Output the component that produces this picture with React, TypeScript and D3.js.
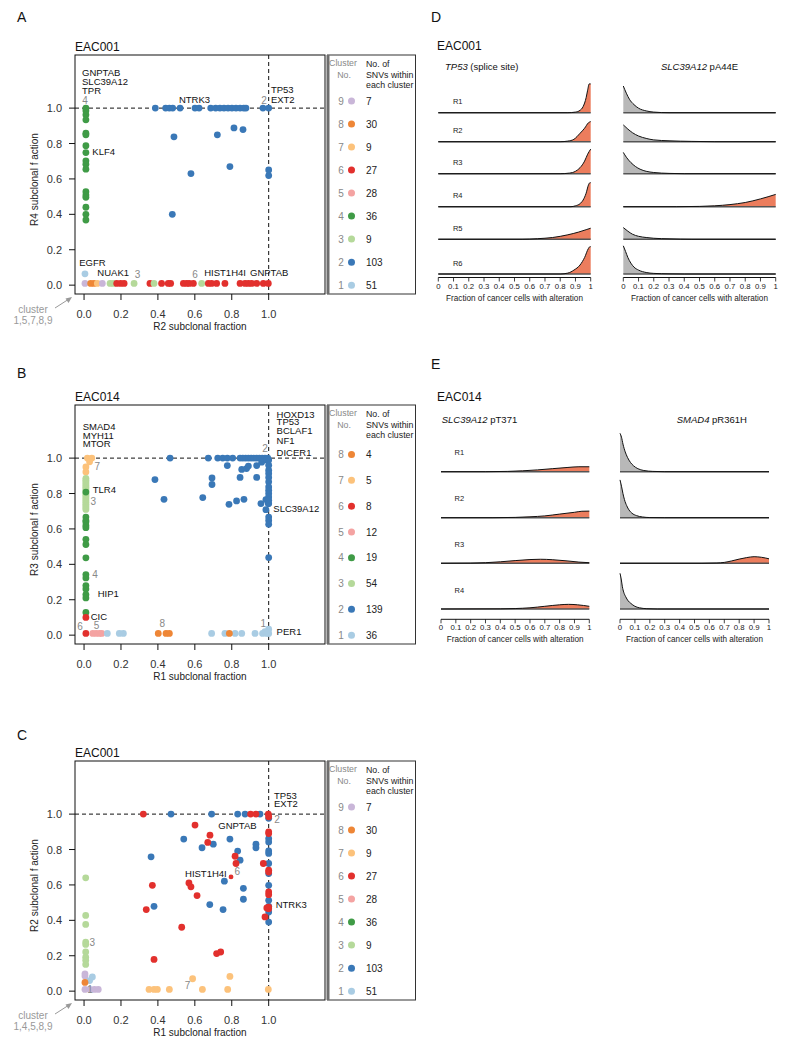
import React from "react";
import * as d3 from "d3";

const FONT = "'Liberation Sans', Arial, Helvetica, sans-serif";
const W = 788;
const H = 1049;

const clusterColors: Record<number, string> = {
  1: "#a9cce3", 2: "#3a78b7", 3: "#b5d99a", 4: "#3f9b46", 5: "#f4a3a2",
  6: "#e2302d", 7: "#fcc27b", 8: "#ee8636", 9: "#c9b6d8",
};

const scatterTicks = [0, 0.2, 0.4, 0.6, 0.8, 1.0];

// ---------- Panel A : EAC001, x = R2, y = R4  [cluster, x, y]
const pointsA: [number, number, number][] = [
  [4,0.01,1.0],[4,0.01,0.985],[4,0.01,0.962],[4,0.01,0.934],[4,0.01,0.858],[4,0.01,0.849],[4,0.01,0.788],
  [4,0.01,0.749],[4,0.01,0.702],[4,0.01,0.683],[4,0.01,0.655],[4,0.01,0.528],[4,0.01,0.509],[4,0.01,0.496],
  [4,0.01,0.44],[4,0.01,0.40],[4,0.01,0.368],
  [1,0.005,0.064],
  [9,0.005,0.01],[8,0.036,0.01],[8,0.054,0.01],[7,0.072,0.01],[9,0.099,0.01],
  [3,0.141,0.01],[3,0.159,0.01],[6,0.177,0.01],[6,0.198,0.01],[6,0.217,0.01],[3,0.271,0.01],
  [6,0.357,0.01],[3,0.379,0.01],[6,0.42,0.01],[6,0.456,0.01],[6,0.469,0.01],
  [6,0.538,0.01],[6,0.556,0.01],[6,0.57,0.01],[6,0.592,0.01],[3,0.637,0.01],[6,0.673,0.01],
  [6,0.691,0.01],[6,0.718,0.01],[6,0.763,0.01],
  [6,0.845,0.01],[6,0.872,0.01],[6,0.89,0.01],[6,0.908,0.01],[6,0.935,0.01],[6,0.971,0.01],[6,0.998,0.01],
  [2,0.386,1],[2,0.442,1],[2,0.462,1],[2,0.48,1],[2,0.52,1],[2,0.601,1],[2,0.623,1],[2,0.686,1],
  [2,0.713,1],[2,0.736,1],[2,0.758,1],[2,0.78,1],[2,0.801,1],[2,0.823,1],[2,0.845,1],[2,0.865,1],
  [2,0.877,1],[2,0.969,1],[2,1.0,1],
  [2,0.487,0.838],[2,0.722,0.849],[2,0.812,0.888],[2,0.861,0.879],[2,0.79,0.67],[2,0.579,0.63],
  [2,0.478,0.40],[2,1.0,0.651],[2,1.0,0.619],
];

// ---------- Panel B : EAC014, x = R1, y = R3
const pointsB: [number, number, number][] = [
  [7,0.018,1.0],[7,0.042,1.0],[7,0.03,0.979],[7,0.01,0.95],[7,0.01,0.922],
  [3,0.01,0.886],[3,0.01,0.875],[3,0.01,0.865],[3,0.01,0.855],[3,0.01,0.845],[3,0.01,0.835],
  [3,0.01,0.825],[3,0.01,0.815],[3,0.01,0.80],[3,0.01,0.79],[3,0.01,0.78],[3,0.01,0.77],
  [3,0.01,0.76],[3,0.01,0.75],[3,0.01,0.74],[3,0.01,0.73],[3,0.01,0.72],[3,0.01,0.71],
  [4,0.01,0.808],[4,0.01,0.667],[4,0.01,0.648],[4,0.01,0.639],[4,0.01,0.62],[4,0.01,0.607],
  [4,0.01,0.541],[4,0.01,0.512],[4,0.01,0.437],[4,0.01,0.342],[4,0.01,0.323],[4,0.01,0.28],
  [4,0.01,0.261],[4,0.01,0.229],[4,0.01,0.21],[4,0.01,0.128],
  [6,0.01,0.10],[6,0.01,0.01],
  [5,0.047,0.01],[5,0.065,0.01],[5,0.083,0.01],[5,0.096,0.01],
  [1,0.126,0.01],[1,0.191,0.01],[1,0.213,0.01],[1,0.691,0.01],[1,0.763,0.01],[1,0.818,0.01],
  [1,0.854,0.01],[1,0.926,0.01],[1,0.967,0.01],[1,0.989,0.01],[1,1.0,0.01],[1,1.0,0.034],[1,0.98,0.02],
  [8,0.402,0.01],[8,0.444,0.01],[8,0.462,0.01],[8,0.787,0.01],
  [2,0.466,1],[2,0.673,1],[2,0.724,1],[2,0.751,1],[2,0.776,1],[2,0.805,1],[2,0.845,1],[2,0.86,1],
  [2,0.875,1],[2,0.89,1],[2,0.905,1],[2,0.92,1],[2,0.935,1],[2,0.95,1],[2,0.965,1],[2,0.98,1],[2,0.995,1],
  [2,0.384,0.879],[2,0.433,0.767],[2,0.643,0.777],[2,0.693,0.888],[2,0.693,0.851],[2,0.776,0.958],
  [2,0.785,0.739],[2,0.826,0.758],[2,0.866,0.767],[2,0.845,0.891],[2,0.854,0.936],[2,0.88,0.941],
  [2,0.89,0.955],[2,0.935,0.891],[2,0.935,0.958],[2,0.958,0.743],[2,0.985,0.766],[2,0.985,0.709],
  [2,0.998,0.743],[2,0.962,0.977],[2,0.99,0.99],
  [2,1.0,0.989],[2,1.0,0.96],[2,1.0,0.932],[2,1.0,0.913],[2,1.0,0.891],[2,1.0,0.866],[2,1.0,0.837],
  [2,1.0,0.818],[2,1.0,0.8],[2,1.0,0.781],[2,1.0,0.762],[2,1.0,0.743],[2,1.0,0.667],[2,1.0,0.648],
  [2,1.0,0.626],[2,1.0,0.438],
];

// ---------- Panel C : EAC001, x = R1, y = R2
const pointsC: [number, number, number][] = [
  [3,0.009,0.64],[3,0.009,0.428],[3,0.009,0.377],[3,0.009,0.277],[3,0.009,0.264],[3,0.009,0.221],
  [3,0.009,0.192],[3,0.009,0.174],[3,0.009,0.151],
  [9,0.005,0.098],[9,0.005,0.085],[9,0.005,0.01],[9,0.032,0.01],[9,0.056,0.01],[9,0.077,0.01],
  [1,0.045,0.08],[1,0.03,0.06],
  [8,0.005,0.049],
  [7,0.352,0.01],[7,0.379,0.01],[7,0.397,0.01],[7,0.462,0.01],[7,0.641,0.01],[7,0.778,0.01],
  [7,0.998,0.01],[7,0.588,0.07],[7,0.79,0.083],
  [2,0.471,1],[2,0.691,1],[2,0.832,1],[2,0.872,1],[2,0.953,1],
  [2,0.54,0.859],[2,0.639,0.81],[2,0.70,0.83],[2,0.79,0.859],[2,0.832,0.791],[2,0.845,0.74],
  [2,0.931,0.83],[2,0.931,0.81],[2,0.363,0.759],[2,0.76,0.621],[2,0.863,0.581],[2,0.863,0.519],
  [2,0.681,0.489],[2,0.753,0.461],[2,0.379,0.479],
  [2,1.0,0.976],[2,1.0,0.862],[2,1.0,0.843],[2,1.0,0.792],[2,1.0,0.778],[2,1.0,0.721],[2,1.0,0.664],
  [2,1.0,0.598],[2,1.0,0.513],[2,1.0,0.479],[2,1.0,0.447],[2,1.0,0.39],
  [6,0.321,1],[6,0.902,1],[6,0.931,1],[6,0.998,1],
  [6,0.601,0.938],[6,0.682,0.881],[6,0.67,0.84],[6,0.818,0.762],[6,0.823,0.721],[6,0.971,0.721],
  [6,0.37,0.598],[6,0.568,0.611],[6,0.579,0.589],[6,0.612,0.54],[6,0.337,0.461],
  [6,0.529,0.361],[6,0.718,0.212],[6,0.74,0.221],[6,0.379,0.179],
  [6,1.0,0.985],[6,1.0,0.9],[6,1.0,0.89],[6,1.0,0.683],[6,1.0,0.673],[6,1.0,0.56],[6,1.0,0.545],
  [6,1.0,0.475],[6,1.0,0.466],[6,0.99,0.47],[6,0.98,0.419],
];
const smallPointsC: [number, number, number][] = [[6, 0.796, 0.645]];

// annotations: [text, x, y, kind]  kind g = gene label, n = cluster number
type Ann = [string, number, number, string];
const annA: Ann[] = [
  ["GNPTAB",-0.011,1.181,"g"],["SLC39A12",-0.011,1.13,"g"],["TPR",-0.011,1.082,"g"],
  ["4",0.005,1.023,"n"],["NTRK3",0.514,1.029,"g"],["2",0.975,1.023,"n"],
  ["TP53",1.012,1.085,"g"],["EXT2",1.012,1.031,"g"],["KLF4",0.045,0.735,"g"],
  ["EGFR",-0.026,0.108,"g"],["NUAK1",0.072,0.051,"g"],["3",0.29,0.04,"n"],["6",0.601,0.04,"n"],
  ["HIST1H4I",0.651,0.051,"g"],["GNPTAB",0.899,0.051,"g"],
];
const annB: Ann[] = [
  ["SMAD4",-0.007,1.156,"g"],["MYH11",-0.007,1.11,"g"],["MTOR",-0.007,1.065,"g"],
  ["HOXD13",1.043,1.229,"g"],["TP53",1.043,1.187,"g"],["BCLAF1",1.043,1.136,"g"],
  ["NF1",1.043,1.082,"g"],["DICER1",1.043,1.012,"g"],["2",0.98,1.034,"n"],
  ["7",0.072,0.933,"n"],["TLR4",0.047,0.805,"g"],["3",0.05,0.735,"n"],["4",0.059,0.32,"n"],
  ["HIP1",0.074,0.215,"g"],["CIC",0.036,0.088,"g"],["6",-0.022,0.029,"n"],["5",0.068,0.037,"n"],
  ["8",0.424,0.046,"n"],["1",0.971,0.046,"n"],["PER1",1.043,0.0,"g"],["SLC39A12",1.025,0.695,"g"],
];
const annC: Ann[] = [
  ["TP53",1.029,1.088,"g"],["EXT2",1.029,1.04,"g"],["2",1.045,0.947,"n"],["GNPTAB",0.727,0.918,"g"],
  ["HIST1H4I",0.547,0.642,"g"],["6",0.83,0.656,"n"],["NTRK3",1.038,0.469,"g"],["3",0.045,0.255,"n"],
  ["7",0.561,0.012,"n"],["1",0.032,-0.01,"n"],
];

const legendClustersAC = [9, 8, 7, 6, 5, 4, 3, 2, 1];
const legendCountsA = [7, 30, 9, 27, 28, 36, 9, 103, 51];
const legendClustersB = [8, 7, 6, 5, 4, 3, 2, 1];
const legendCountsB = [4, 5, 8, 12, 19, 54, 139, 36];

// ---------- Density panels: [fraction, relative density]
const densityTicks = [0, 0.1, 0.2, 0.3, 0.4, 0.5, 0.6, 0.7, 0.8, 0.9, 1];
const densityTickLabels = ["0", "0.1", "0.2", "0.3", "0.4", "0.5", "0.6", "0.7", "0.8", "0.9", "1"];

const D_TP53: [number, number][][] = [
  [[0,0],[0.85,0],[0.9,0.02],[0.93,0.08],[0.95,0.2],[0.97,0.5],[0.98,0.75],[0.99,0.96],[1,0.96]],
  [[0,0],[0.8,0],[0.85,0.02],[0.89,0.08],[0.93,0.28],[0.96,0.45],[0.985,0.63],[1,0.67]],
  [[0,0],[0.8,0],[0.86,0.02],[0.9,0.08],[0.93,0.2],[0.96,0.42],[0.98,0.65],[1,0.82]],
  [[0,0],[0.87,0],[0.9,0.03],[0.93,0.1],[0.95,0.22],[0.97,0.45],[0.985,0.72],[0.995,0.8],[1,0.8]],
  [[0,0],[0.55,0],[0.65,0.02],[0.75,0.06],[0.85,0.15],[0.92,0.24],[0.97,0.32],[1,0.37]],
  [[0,0],[0.8,0],[0.85,0.03],[0.89,0.13],[0.93,0.3],[0.96,0.55],[0.985,0.85],[0.995,0.91],[1,0.91]],
];
const D_SLC: [number, number][][] = [
  [[0,0.89],[0.02,0.65],[0.04,0.45],[0.07,0.27],[0.1,0.15],[0.15,0.06],[0.2,0.02],[0.3,0],[1,0]],
  [[0,0.56],[0.03,0.42],[0.06,0.3],[0.1,0.19],[0.15,0.11],[0.2,0.06],[0.3,0.03],[0.45,0.01],[0.6,0],[1,0]],
  [[0,0.71],[0.02,0.55],[0.05,0.37],[0.08,0.24],[0.11,0.15],[0.15,0.08],[0.2,0.04],[0.3,0.01],[0.4,0],[1,0]],
  [[0,0],[0.35,0],[0.5,0.01],[0.6,0.03],[0.7,0.07],[0.8,0.14],[0.9,0.26],[1,0.41]],
  [[0,0.39],[0.03,0.27],[0.06,0.17],[0.1,0.1],[0.15,0.06],[0.2,0.035],[0.3,0.015],[0.45,0],[1,0]],
  [[0,0.94],[0.015,0.75],[0.03,0.55],[0.05,0.36],[0.07,0.23],[0.1,0.13],[0.15,0.05],[0.2,0.02],[0.3,0.005],[0.4,0],[1,0]],
];
const D_SLC_fill = ["g", "g", "g", "o", "g", "g"];
const D_TP53_fill = ["o", "o", "o", "o", "o", "o"];
const D_rows = ["R1", "R2", "R3", "R4", "R5", "R6"];

const E_SLC: [number, number][][] = [
  [[0,0],[0.3,0],[0.45,0.01],[0.55,0.03],[0.65,0.06],[0.75,0.1],[0.85,0.14],[0.93,0.165],[1,0.165]],
  [[0,0],[0.35,0],[0.5,0.01],[0.6,0.03],[0.7,0.06],[0.8,0.12],[0.9,0.18],[0.95,0.215],[1,0.22]],
  [[0,0],[0.2,0.005],[0.3,0.02],[0.4,0.05],[0.5,0.09],[0.6,0.125],[0.67,0.135],[0.75,0.12],[0.85,0.08],[0.93,0.04],[1,0.02]],
  [[0,0],[0.4,0.005],[0.5,0.015],[0.6,0.04],[0.7,0.09],[0.8,0.14],[0.86,0.155],[0.92,0.14],[1,0.09]],
];
const E_SMAD4: [number, number][][] = [
  [[0,1.28],[0.01,1.15],[0.02,0.92],[0.035,0.66],[0.05,0.48],[0.07,0.31],[0.09,0.2],[0.12,0.1],[0.16,0.04],[0.22,0.01],[0.3,0],[1,0]],
  [[0,1.26],[0.01,1.05],[0.02,0.8],[0.03,0.6],[0.045,0.4],[0.06,0.26],[0.08,0.15],[0.11,0.07],[0.15,0.025],[0.2,0.005],[0.3,0],[1,0]],
  [[0,0],[0.55,0],[0.65,0.01],[0.7,0.03],[0.75,0.08],[0.8,0.14],[0.85,0.19],[0.9,0.22],[0.95,0.2],[1,0.15]],
  [[0,1.19],[0.008,1.0],[0.016,0.74],[0.025,0.56],[0.038,0.41],[0.055,0.27],[0.072,0.19],[0.1,0.09],[0.13,0.04],[0.18,0.01],[0.25,0],[1,0]],
];
const E_SLC_fill = ["o", "o", "o", "o"];
const E_SMAD4_fill = ["g", "g", "o", "g"];
const E_rows = ["R1", "R2", "R3", "R4"];

const ORANGE = "#ec7d5d";
const GREY = "#b8b8b8";

// ---------------- Scatter panel ----------------
interface ScatterProps {
  top: number; letter: string; letterY: number; title: string;
  xLabel: string; yLabel: string; points: [number, number, number][];
  small?: [number, number, number][];
  ann: Ann[]; legendClusters: number[]; legendCounts: number[]; legendTop: number;
  corner?: string;
}

function Scatter(p: ScatterProps) {
  const left = 75, right = 325, boxH = 239;
  const top = p.top, bottom = top + boxH;
  const x = d3.scaleLinear().domain([-0.049, 1.305]).range([left, right]);
  const y = d3.scaleLinear().domain([-0.05, 1.30]).range([bottom, top]);
  const n = p.legendClusters.length;
  const ly = d3.scaleLinear().domain([0, n - 1]).range([y(p.legendTop), y(0)]);
  return (
    <g fontFamily={FONT}>
      <text x={17} y={p.letterY} fontSize={14} fill="#111">{p.letter}</text>
      <text x={75} y={top - 4} fontSize={12} fill="#111">{p.title}</text>
      <rect x={left} y={top} width={right - left} height={boxH} fill="none" stroke="#111" strokeWidth={1} />
      {/* ticks */}
      {scatterTicks.map((t) => (
        <g key={"y" + t}>
          <line x1={left} x2={left - 6} y1={y(t)} y2={y(t)} stroke="#111" />
          <text x={62} y={y(t) + 4} fontSize={11} textAnchor="end" fill="#333">{t.toFixed(1)}</text>
        </g>
      ))}
      {scatterTicks.map((t) => (
        <g key={"x" + t}>
          <line x1={x(t)} x2={x(t)} y1={bottom} y2={bottom + 6} stroke="#111" />
          <text x={x(t)} y={bottom + 24} fontSize={11} textAnchor="middle" fill="#333">{t.toFixed(1)}</text>
        </g>
      ))}
      <text x={(left + right) / 2} y={bottom + 36} fontSize={10} textAnchor="middle" fill="#222">{p.xLabel}</text>
      <text transform={`translate(38,${top + boxH / 2 + 5}) rotate(-90)`} fontSize={10} textAnchor="middle" fill="#222">{p.yLabel}</text>
      {/* dashed reference lines */}
      <line x1={left} x2={right} y1={y(1)} y2={y(1)} stroke="#111" strokeDasharray="4,3" />
      <line x1={x(1)} x2={x(1)} y1={top} y2={bottom} stroke="#111" strokeDasharray="4,3" />
      {/* points */}
      {p.points.map((d, i) => (
        <circle key={i} cx={x(d[1])} cy={y(d[2])} r={3.4} fill={clusterColors[d[0]]} />
      ))}
      {(p.small || []).map((d, i) => (
        <circle key={"s" + i} cx={x(d[1])} cy={y(d[2])} r={2.4} fill={clusterColors[d[0]]} />
      ))}
      {/* annotations */}
      {p.ann.map((a, i) => (
        <text key={"a" + i} x={x(a[1])} y={y(a[2])} fontSize={a[3] === "g" ? 9.5 : 10}
          textAnchor={a[3] === "g" ? "start" : "middle"} fill={a[3] === "g" ? "#111" : "#888"}>{a[0]}</text>
      ))}
      {/* corner note */}
      {p.corner && (
        <g fill="#999" stroke="none">
          <text x={33} y={bottom + 19} fontSize={10} textAnchor="middle">cluster</text>
          <text x={33} y={bottom + 30} fontSize={10} textAnchor="middle">{p.corner}</text>
          <line x1={55} y1={bottom + 14} x2={69} y2={bottom + 5} stroke="#999" strokeWidth={1} />
          <path d={`M ${72} ${bottom + 3} L ${65.5} ${bottom + 4.5} L ${68.5} ${bottom + 9} Z`} fill="#999" />
        </g>
      )}
      {/* legend */}
      <rect x={327.5} y={top} width={88} height={boxH} fill="none" stroke="#333" strokeWidth={1} />
      <line x1={328} x2={328} y1={top} y2={bottom} stroke="#6e6e6e" strokeWidth={3} />
      <g fontSize={8.8}>
        <text x={343} y={top + 11} textAnchor="middle" fill="#888">Cluster</text>
        <text x={344} y={top + 22.5} textAnchor="middle" fill="#888">No.</text>
        <text x={366} y={top + 11.5} fill="#222">No. of</text>
        <text x={366} y={top + 22.5} fill="#222">SNVs within</text>
        <text x={366} y={top + 33} fill="#222">each cluster</text>
      </g>
      {p.legendClusters.map((c, i) => (
        <g key={"l" + c}>
          <text x={341} y={ly(i) + 3.6} fontSize={10} textAnchor="middle" fill="#888">{c}</text>
          <circle cx={351.5} cy={ly(i)} r={3.5} fill={clusterColors[c]} />
          <text x={366} y={ly(i) + 3.6} fontSize={10} fill="#222">{p.legendCounts[i]}</text>
        </g>
      ))}
    </g>
  );
}

// ---------------- Density column ----------------
interface DensProps {
  x0: number; x1: number; baselines: number[]; curves: [number, number][][];
  fills: string[]; axisY: number; rowLabels?: string[]; labelX?: number; labelDy: number;
}
const UNIT = 30;

function DensityColumn(p: DensProps) {
  const x = d3.scaleLinear().domain([0, 1]).range([p.x0, p.x1]);
  return (
    <g fontFamily={FONT}>
      {p.curves.map((c, i) => {
        const b = p.baselines[i];
        const h = d3.scaleLinear().domain([0, 1]).range([b, b - UNIT]);
        const area = d3.area<[number, number]>().x((d) => x(d[0])).y0(b).y1((d) => h(d[1])).curve(d3.curveMonotoneX);
        const line = d3.line<[number, number]>().x((d) => x(d[0])).y((d) => h(d[1])).curve(d3.curveMonotoneX);
        return (
          <g key={i}>
            <path d={area(c) || ""} fill={p.fills[i] === "o" ? ORANGE : GREY} stroke="none" />
            <line x1={x(0)} x2={x(1)} y1={b} y2={b} stroke="#555" strokeWidth={1.6} />
            <path d={line(c) || ""} fill="none" stroke="#111" strokeWidth={1} />
            {p.rowLabels && (
              <text x={p.labelX} y={b - p.labelDy} fontSize={7.5} textAnchor="middle" fill="#222">{p.rowLabels[i]}</text>
            )}
          </g>
        );
      })}
      <line x1={x(0)} x2={x(1)} y1={p.axisY} y2={p.axisY} stroke="#111" strokeWidth={1} />
      {densityTicks.map((t, i) => (
        <g key={"t" + i}>
          <line x1={x(t)} x2={x(t)} y1={p.axisY} y2={p.axisY + 4} stroke="#111" strokeWidth={0.8} />
          <text x={x(t)} y={p.axisY + 11} fontSize={7.8} textAnchor="middle" fill="#222">{densityTickLabels[i]}</text>
        </g>
      ))}
      <text x={(p.x0 + p.x1) / 2} y={p.axisY + 23} fontSize={8.2} textAnchor="middle" fill="#222">
        Fraction of cancer cells with alteration
      </text>
    </g>
  );
}

export default function App() {
  const dBase = [112.7, 141.7, 173.7, 206.7, 239.3, 274];
  const eBase = [471.7, 517.7, 563.3, 609];
  return (
    <svg width={W} height={H} viewBox={`0 0 ${W} ${H}`} style={{ display: "block", position: "absolute", left: 0, top: 0, background: "#fff" }}>
      <rect x={0} y={0} width={W} height={H} fill="#fff" />
      <Scatter top={55} letter="A" letterY={22} title="EAC001" xLabel="R2 subclonal fraction" yLabel="R4 subclonal f action"
        points={pointsA} ann={annA} legendClusters={legendClustersAC} legendCounts={legendCountsA} legendTop={1.04} corner="1,5,7,8,9" />
      <Scatter top={405} letter="B" letterY={378} title="EAC014" xLabel="R1 subclonal fraction" yLabel="R3 subclonal f action"
        points={pointsB} ann={annB} legendClusters={legendClustersB} legendCounts={legendCountsB} legendTop={1.02} />
      <Scatter top={761} letter="C" letterY={740} title="EAC001" xLabel="R1 subclonal fraction" yLabel="R2 subclonal f action"
        points={pointsC} small={smallPointsC} ann={annC} legendClusters={legendClustersAC} legendCounts={legendCountsA} legendTop={1.04} corner="1,4,5,8,9" />

      {/* Panel D */}
      <g fontFamily={FONT} fill="#111">
        <text x={431} y={22} fontSize={14}>D</text>
        <text x={437} y={49.5} fontSize={12}>EAC001</text>
        <text x={445} y={70} fontSize={9.5}><tspan fontStyle="italic">TP53</tspan> (splice site)</text>
        <text x={661} y={70} fontSize={9.5}><tspan fontStyle="italic">SLC39A12</tspan> pA44E</text>
      </g>
      <DensityColumn x0={438.3} x1={590.7} baselines={dBase} curves={D_TP53} fills={D_TP53_fill} axisY={277.5}
        rowLabels={D_rows} labelX={457.7} labelDy={8.5} />
      <DensityColumn x0={623.3} x1={775.7} baselines={dBase} curves={D_SLC} fills={D_SLC_fill} axisY={277.5} labelDy={8.5} />

      {/* Panel E */}
      <g fontFamily={FONT} fill="#111">
        <text x={431} y={368.5} fontSize={14}>E</text>
        <text x={437} y={401} fontSize={12}>EAC014</text>
        <text x={441.7} y={422.7} fontSize={9.5}><tspan fontStyle="italic">SLC39A12</tspan> pT371</text>
        <text x={676.7} y={422.7} fontSize={9.5}><tspan fontStyle="italic">SMAD4</tspan> pR361H</text>
      </g>
      <DensityColumn x0={441} x1={589.3} baselines={eBase} curves={E_SLC} fills={E_SLC_fill} axisY={619.3}
        rowLabels={E_rows} labelX={459.3} labelDy={16.5} />
      <DensityColumn x0={620} x1={769} baselines={eBase} curves={E_SMAD4} fills={E_SMAD4_fill} axisY={619.3} labelDy={16.5} />
    </svg>
  );
}
